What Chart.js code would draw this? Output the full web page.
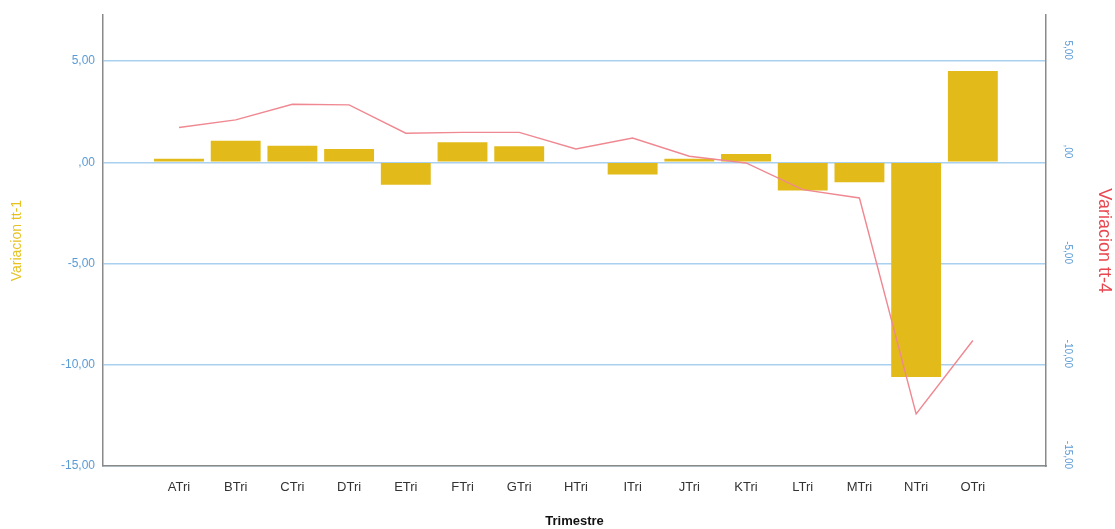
<!DOCTYPE html>
<html>
<head>
<meta charset="utf-8">
<script src="https://cdn.jsdelivr.net/npm/chart.js@4"></script>
<style>
  html, body { margin: 0; padding: 0; background: #ffffff; }
  #wrap { width: 1115px; height: 529px; position: relative; }
  canvas { display: block; }
</style>
</head>
<body>
<div id="wrap"><canvas id="c" width="1115" height="529" style="width:1115px;height:529px"></canvas></div>
<script>
const categories = ['ATri','BTri','CTri','DTri','ETri','FTri','GTri','HTri','ITri','JTri','KTri','LTri','MTri','NTri','OTri'];
const variacionTt1 = [0.18, 1.07, 0.82, 0.66, -1.10, 0.99, 0.79, 0.00, -0.60, 0.18, 0.41, -1.39, -0.98, -10.60, 4.51];
const variacionTt4 = [1.72, 2.10, 2.87, 2.84, 1.44, 1.48, 1.48, 0.66, 1.20, 0.30, -0.03, -1.35, -1.76, -12.43, -8.80];
const yTicks = [-15, -10, -5, 0, 5];

function fmt(v) {
  if (v === 0) return ',00';
  return v.toFixed(2).replace('.', ',');
}

const barData = categories.map((c, i) => ({ x: i, y: variacionTt1[i] }));
const lineData = categories.map((c, i) => ({ x: i, y: variacionTt4[i] }));

const FONT = "'Liberation Sans', Arial, sans-serif";

new Chart(document.getElementById('c'), {
  data: {
    datasets: [
      {
        type: 'line',
        label: 'Variacion tt-4',
        data: lineData,
        yAxisID: 'y2',
        borderColor: '#EF8891',
        borderWidth: 1.4,
        pointRadius: 0,
        tension: 0,
        fill: false,
        order: 0
      },
      {
        type: 'bar',
        label: 'Variacion tt-1',
        data: barData,
        yAxisID: 'y',
        backgroundColor: '#E2BB1B',
        borderWidth: 0,
        barPercentage: 1.0,
        categoryPercentage: 0.88,
        order: 1
      }
    ]
  },
  options: {
    responsive: false,
    animation: false,
    devicePixelRatio: 1,
    layout: { padding: { top: 14, left: 0, right: 0, bottom: 0 } },
    plugins: { legend: { display: false }, tooltip: { enabled: false } },
    scales: {
      x: {
        type: 'linear',
        offset: false,
        min: -1.34,
        max: 15.29,
        afterBuildTicks: (s) => { s.ticks = categories.map((c, i) => ({ value: i })); },
        afterFit: (s) => { s.height = 63; },
        grid: { display: false, drawTicks: false },
        border: { display: true, color: '#8a8a8a', width: 1.5 },
        ticks: {
          autoSkip: false,
          maxRotation: 0,
          minRotation: 0,
          padding: 14,
          color: '#333333',
          font: { family: FONT, size: 13 },
          callback: (v) => categories[v] !== undefined ? categories[v] : ''
        },
        title: {
          display: true,
          text: 'Trimestre',
          color: '#111111',
          font: { family: FONT, size: 13, weight: 'bold' },
          padding: { top: 8, bottom: 0 }
        }
      },
      y: {
        type: 'linear',
        position: 'left',
        min: -15,
        max: 7.27,
        afterBuildTicks: (s) => { s.ticks = yTicks.map(v => ({ value: v })); },
        afterFit: (s) => { s.width = 103; },
        grid: { color: '#A9D0EE', lineWidth: 1.5, drawTicks: false },
        border: { display: true, color: '#8a8a8a', width: 1.5 },
        ticks: {
          padding: 8,
          color: '#5B9BD5',
          font: { family: FONT, size: 12 },
          callback: (v) => fmt(v)
        },
        title: {
          display: true,
          text: 'Variacion tt-1',
          color: '#E6C21F',
          font: { family: FONT, size: 14 },
          padding: { top: 9, bottom: 0 }
        }
      },
      y2: {
        type: 'linear',
        position: 'right',
        min: -15,
        max: 7.27,
        afterBuildTicks: (s) => { s.ticks = yTicks.map(v => ({ value: v })); },
        afterFit: (s) => { s.width = 69; },
        grid: { display: false, drawTicks: false },
        border: { display: true, color: '#8a8a8a', width: 1.5 },
        ticks: {
          padding: 8,
          crossAlign: 'center',
          labelOffset: -11,
          minRotation: -90,
          maxRotation: -90,
          color: '#5B9BD5',
          font: { family: FONT, size: 10 },
          callback: (v) => fmt(v)
        },
        title: {
          display: true,
          text: 'Variacion tt-4',
          color: '#E8474F',
          font: { family: FONT, size: 18 },
          padding: { top: 0, bottom: 1 }
        }
      }
    }
  }
});
</script>
</body>
</html>
